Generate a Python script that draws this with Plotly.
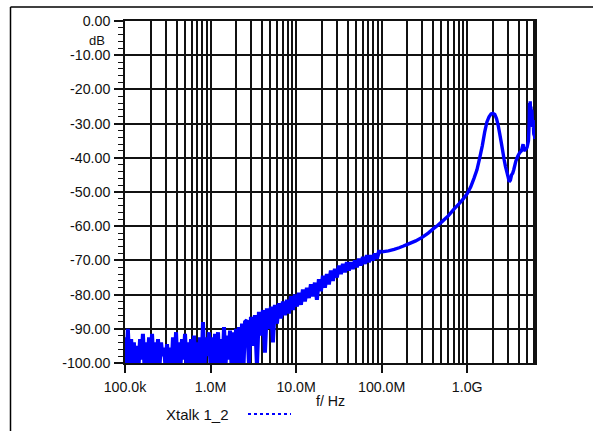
import math
import plotly.graph_objects as go

# ---------------- data ----------------
# low-frequency noise floor: alternating peak / trough samples
NOISE_FREQ_MHZ = [
    0.100, 0.104, 0.108, 0.113, 0.118, 0.122, 0.127, 0.133, 0.138, 0.144,
    0.150, 0.156, 0.162, 0.169, 0.176, 0.183, 0.191, 0.199, 0.207, 0.215,
    0.224, 0.233, 0.243, 0.253, 0.264, 0.274, 0.286, 0.297, 0.310, 0.322,
    0.336, 0.350, 0.364, 0.379, 0.395, 0.411, 0.428, 0.445, 0.464, 0.483,
    0.503, 0.523, 0.545, 0.567, 0.591, 0.615, 0.641, 0.667, 0.694, 0.723,
    0.753, 0.784, 0.816, 0.850, 0.885, 0.921, 0.959, 0.999, 1.040, 1.083,
    1.128, 1.174, 1.223, 1.273, 1.326, 1.380, 1.437, 1.496, 1.558, 1.622,
    1.689, 1.759, 1.831, 1.907, 1.985, 2.067, 2.152, 2.241, 2.333, 2.430,
    2.530,
]
NOISE_DB = [
    -92.5, -101, -90.0, -101, -93.0, -100, -94.0, -101, -95.0, -101,
    -93.0, -99, -91.5, -101, -94.0, -101, -92.5, -101, -91.5, -100,
    -94.0, -101, -93.0, -101, -94.0, -98, -95.5, -101, -94.5, -101,
    -95.5, -101, -92.5, -100, -91.0, -101, -94.0, -101, -93.0, -99,
    -91.5, -101, -94.0, -101, -93.0, -101, -92.0, -100, -94.0, -101,
    -92.5, -101, -88.0, -101, -92.5, -98, -91.0, -101, -92.5, -101,
    -91.5, -100, -91.0, -101, -93.0, -101, -89.5, -101, -92.0, -99,
    -90.5, -101, -91.0, -101, -90.0, -100, -89.5, -101, -88.5, -101,
    -88.0,
]

# rising noisy band (2.6 MHz .. 93 MHz): alternating upper / lower samples
RISE_FREQ_MHZ = [
    2.662, 2.809, 2.965, 3.129, 3.302, 3.485, 3.677, 3.880, 4.094, 4.320,
    4.560, 4.812, 5.077, 5.358, 5.655, 5.967, 6.297, 6.644, 7.012, 7.400,
    7.808, 8.240, 8.697, 9.175, 9.683, 10.22, 10.78, 11.38, 12.01, 12.67,
    13.37, 14.11, 14.89, 15.72, 16.58, 17.50, 18.47, 19.49, 20.57, 21.70,
    22.90, 24.17, 25.50, 26.92, 28.40, 29.97, 31.62, 33.37, 35.22, 37.16,
    39.22, 41.38, 43.67, 46.09, 48.63, 51.32, 54.15, 57.15, 60.31, 63.63,
    67.15, 70.87, 74.77, 78.90, 83.27, 87.87, 92.75,
]
RISE_DB = [
    -87.5, -100, -86.5, -95, -86.0, -101, -85.0, -92, -84.5, -97,
    -84.0, -90, -83.5, -94, -83.0, -88.5, -82.5, -87, -82.0, -86,
    -81.5, -85.5, -80.5, -84.5, -80.0, -83.5, -79.5, -83, -78.5, -82,
    -78.0, -81, -77.0, -80.5, -76.5, -81.5, -75.5, -79, -74.5, -78,
    -74.0, -77, -73.0, -76, -72.5, -75, -71.5, -74, -71.0, -73.5,
    -70.5, -73, -70.5, -72.5, -70.0, -72, -69.5, -71.5, -69.0, -71,
    -68.5, -70.5, -68.5, -70, -68.0, -69.5, -67.5,
]

# high-frequency part with the resonances
HF_FREQ_MHZ = [
    100, 120, 140, 160, 180, 200, 250, 300, 350, 400,
    450, 500, 600, 700, 800, 900, 1000, 1100, 1200, 1300,
    1400, 1500, 1600, 1700, 1800, 1900, 2000, 2100, 2200, 2300,
    2400, 2500, 2600, 2700, 2800, 2900, 3000, 3100, 3200, 3300,
    3400, 3500, 3700, 3900, 4100, 4300, 4500, 4600, 4800, 5000,
    5200, 5300, 5350, 5400, 5450, 5500, 5550, 5650, 5700, 5800,
    5900, 6000, 6100, 6200,
]
HF_DB = [
    -67.5, -67.2, -66.8, -66.3, -65.8, -65.3, -64.3, -63.2, -62.0, -60.8,
    -59.8, -58.8, -57.0, -55.0, -53.5, -52.0, -50.5, -48.5, -46.0, -43.5,
    -40.0, -36.5, -32.5, -29.5, -28.0, -27.2, -27.0, -27.3, -28.5, -30.5,
    -33.0, -35.5, -38.0, -40.5, -42.5, -44.0, -45.5, -47.0, -46.5, -45.0,
    -44.5, -43.5, -41.0, -39.5, -38.5, -38.0, -36.0, -38.0, -37.5, -37.0,
    -35.0, -30.0, -24.0, -29.0, -23.5, -28.0, -25.0, -30.0, -26.0, -31.0,
    -29.0, -33.0, -33.5, -34.5,
]

X_TICK_VALS = [1e5, 1e6, 1e7, 1e8, 1e9]
X_TICK_TEXT = ["100.0k", "1.0M", "10.0M", "100.0M", "1.0G"]
Y_TICK_VALS = [0, -10, -20, -30, -40, -50, -60, -70, -80, -90, -100]
Y_TICK_TEXT = ["0.00", "-10.00", "-20.00", "-30.00", "-40.00", "-50.00",
               "-60.00", "-70.00", "-80.00", "-90.00", "-100.00"]
X_MIN_HZ = 1e5
X_MAX_HZ = 6.2e9
SERIES_NAME = "Xtalk 1_2"

# ---------------- figure ----------------
low_hz = [f * 1e6 for f in NOISE_FREQ_MHZ + RISE_FREQ_MHZ + HF_FREQ_MHZ[:1]]
low_db = NOISE_DB + RISE_DB + HF_DB[:1]
hf_hz = [f * 1e6 for f in HF_FREQ_MHZ]

x_minor = [m * 10 ** e for e in range(5, 10) for m in range(2, 10)
           if m * 10 ** e <= X_MAX_HZ]
y_minor = [v for v in range(-100, 1, 2) if v % 10 != 0]

BLUE = "#0000ff"
INK = "#111111"
FONT = dict(family="Liberation Sans, Arial, sans-serif", size=14.2, color=INK)

fig = go.Figure()
fig.add_trace(go.Scatter(
    x=low_hz, y=low_db, mode="lines", name=SERIES_NAME,
    line=dict(color=BLUE, width=4, simplify=False), showlegend=False,
))
fig.add_trace(go.Scatter(
    x=hf_hz, y=HF_DB, mode="lines", name=SERIES_NAME,
    line=dict(color=BLUE, width=3.4, simplify=False), showlegend=False,
))

W, H = 593, 431
ML, MR, MT, MB = 125, 58, 21, 68
PW, PH = W - ML - MR, H - MT - MB


def px(xp):
    return (xp - ML) / PW


def py(yp):
    return (H - MB - yp) / PH


grid = dict(showgrid=True, gridcolor=INK, gridwidth=1.7)

fig.update_layout(
    width=W, height=H,
    margin=dict(l=ML, r=MR, t=MT, b=MB, pad=0),
    paper_bgcolor="white", plot_bgcolor="white",
    font=FONT,
    xaxis=dict(
        type="log",
        range=[math.log10(X_MIN_HZ), math.log10(X_MAX_HZ)],
        tickmode="array", tickvals=X_TICK_VALS, ticktext=X_TICK_TEXT,
        ticks="outside", ticklen=8, tickwidth=1.6, tickcolor=INK,
        ticklabelstandoff=2,
        showline=True, mirror=True, linecolor=INK, linewidth=1.7,
        zeroline=False,
        minor=dict(tickmode="array", tickvals=x_minor, ticks="",
                   showgrid=True, gridcolor=INK, gridwidth=1.7),
        **grid,
    ),
    yaxis=dict(
        range=[-100, 0],
        tickmode="array", tickvals=Y_TICK_VALS, ticktext=Y_TICK_TEXT,
        ticks="outside", ticklen=9, tickwidth=1.6, tickcolor=INK,
        ticklabelstandoff=1,
        showline=True, mirror=True, linecolor=INK, linewidth=1.7,
        zeroline=False,
        minor=dict(tickmode="array", tickvals=y_minor, ticks="outside",
                   ticklen=5, tickwidth=1.3, tickcolor=INK, showgrid=False),
        **grid,
    ),
)

ann = dict(xref="paper", yref="paper", showarrow=False, font=FONT,
           xanchor="center", yanchor="middle")
fig.add_annotation(text="dB", x=px(97), y=py(40.5),
                   **{**ann, "font": {**FONT, "size": 13}})
fig.add_annotation(text="f/ Hz", x=px(330), y=py(401), **ann)
fig.add_annotation(text=SERIES_NAME, x=px(197.5), y=py(415),
                   **{**ann, "font": {**FONT, "size": 15}})

# legend sample line
fig.add_shape(type="line", xref="paper", yref="paper",
              x0=px(248), x1=px(291), y0=py(414), y1=py(414),
              line=dict(color=BLUE, width=2, dash="dot"))
# outer frame (top and left edges)
fig.add_shape(type="line", xref="paper", yref="paper",
              x0=px(10.5), x1=px(600), y0=py(7), y1=py(7),
              line=dict(color="black", width=1.5))
fig.add_shape(type="line", xref="paper", yref="paper",
              x0=px(10.5), x1=px(10.5), y0=py(7), y1=py(440),
              line=dict(color="black", width=1.5))

fig.write_html("out.html",
               config={"displayModeBar": False},
               post_script="document.body.style.margin='0';"
                           "document.body.style.overflow='hidden';")
